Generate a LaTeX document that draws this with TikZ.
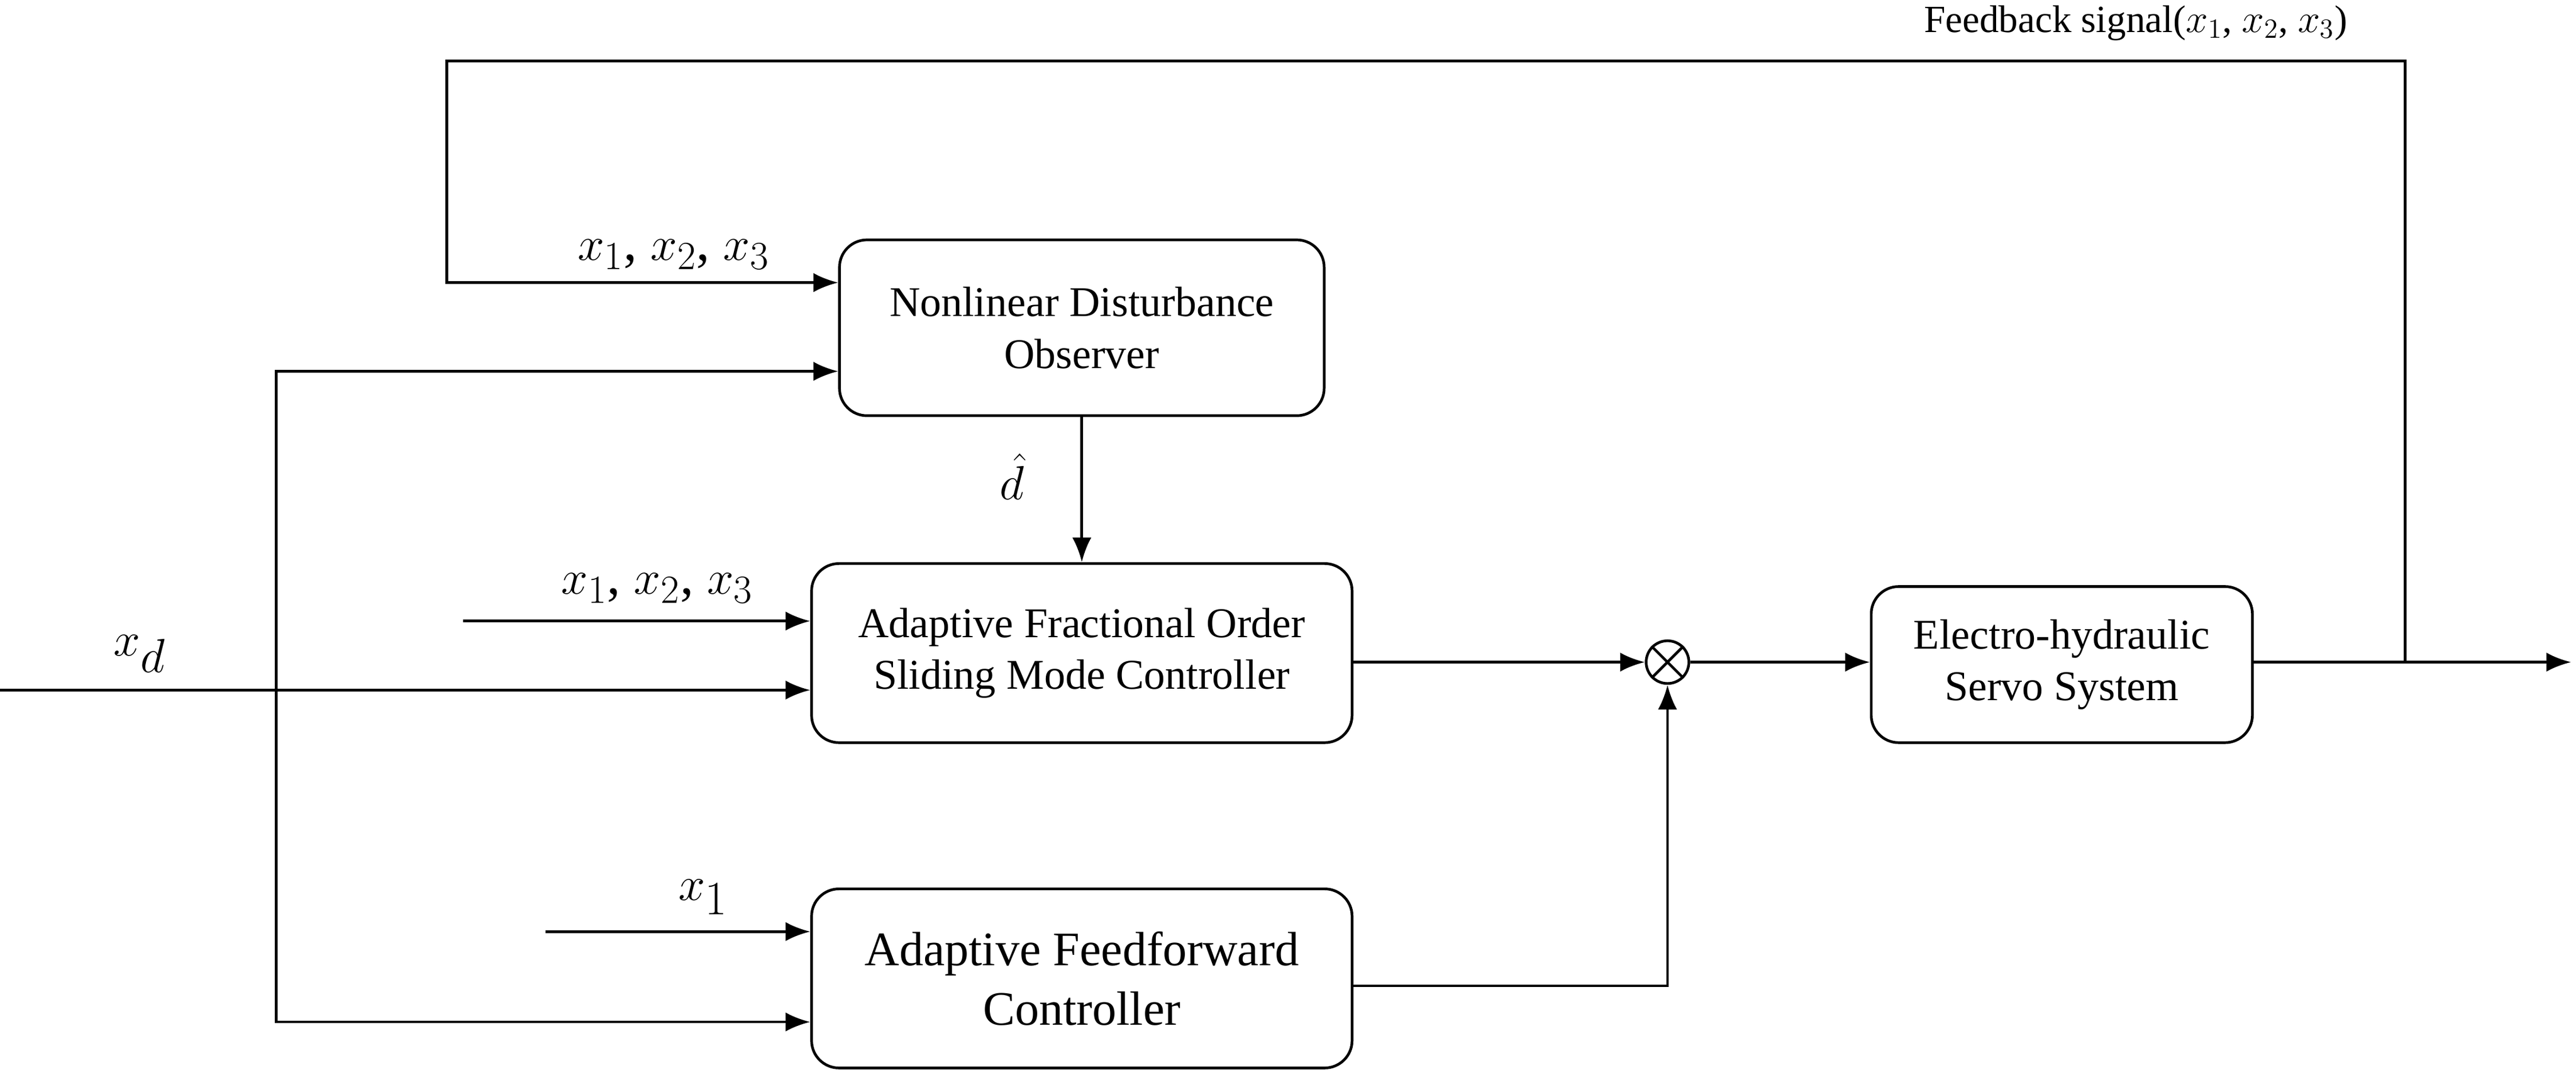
\documentclass[tikz,border=0pt]{standalone}
\usepackage{fontspec}
\setmainfont{Liberation Serif}
\usetikzlibrary{arrows.meta}
\begin{document}
\begin{tikzpicture}[x=0.03cm,y=-0.03cm,
 box/.style={draw,line width=1.4pt,rounded corners=0.5cm,align=center,font=\fontsize{22}{27}\selectfont,inner sep=0pt},
 ln/.style={line width=1.4pt},
 ar/.style={ln,-{Latex[length=0.45cm,width=0.35cm]}},
 lab/.style={font=\fontsize{28}{32}\selectfont}]
\useasboundingbox (0,0) rectangle (1568,651);
\node[box,minimum width=295*0.03cm,minimum height=107*0.03cm] (ndo) at (658.5,199.5) {Nonlinear Disturbance\\Observer};
\node[box,minimum width=329*0.03cm,minimum height=109*0.03cm] (smc) at (658.5,397.5) {Adaptive Fractional Order\\ Sliding Mode Controller};
\node[box,minimum width=329*0.03cm,minimum height=109*0.03cm,font=\fontsize{25}{31}\selectfont] (afc) at (658.5,595.5) {Adaptive Feedforward\\Controller};
\node[box,minimum width=232*0.03cm,minimum height=95*0.03cm] (ehs) at (1255,404.5) {Electro-hydraulic\\Servo System};
\node[draw,circle,ln,minimum size=26*0.03cm,inner sep=0pt] (sum) at (1015,403) {};
\draw[ln] (sum.45)--(sum.225) (sum.135)--(sum.315);
\coordinate (fb) at (1464,403);
\coordinate (out) at (1565,403);
\coordinate (xd0) at (0,420);
\coordinate (in1) at (282,378);
\coordinate (in2) at (332,567);
% feedback
\draw[ar] (ehs.east |- out) -- (out);
\draw[ar] (fb) |- (272,37) |- (ndo.west |- 0,172);
\node[font=\fontsize{20}{24}\selectfont] at (1300,14) {Feedback signal($x_1$, $x_2$, $x_3$)};
\node[lab] at (410,155) {$x_1$, $x_2$, $x_3$};
% xd
\draw[ar] (xd0) -- (smc.west |- xd0);
\node[font=\fontsize{34}{38}\selectfont] at (85,398) {$x_d$};
\draw[ar] (168,420) |- (ndo.west |- 0,226);
\draw[ar] (168,420) |- (afc.west |- 0,622);
\draw[ar] (in1) -- (smc.west |- in1);
\node[lab] at (400,358) {$x_1$, $x_2$, $x_3$};
\draw[ar] (in2) -- (afc.west |- in2);
\node[font=\fontsize{34}{38}\selectfont] at (428,546) {$x_1$};
\draw[ar] (ndo.south) -- (smc.north);
\node[lab] at (616,290) {$\hat{d}$};
\draw[ar] (smc.east |- sum) -- (sum.west);
\draw[ar] (afc.east |- 0,600) -| (sum.south);
\draw[ar] (sum.east) -- (ehs.west |- sum);
\end{tikzpicture}
\end{document}
